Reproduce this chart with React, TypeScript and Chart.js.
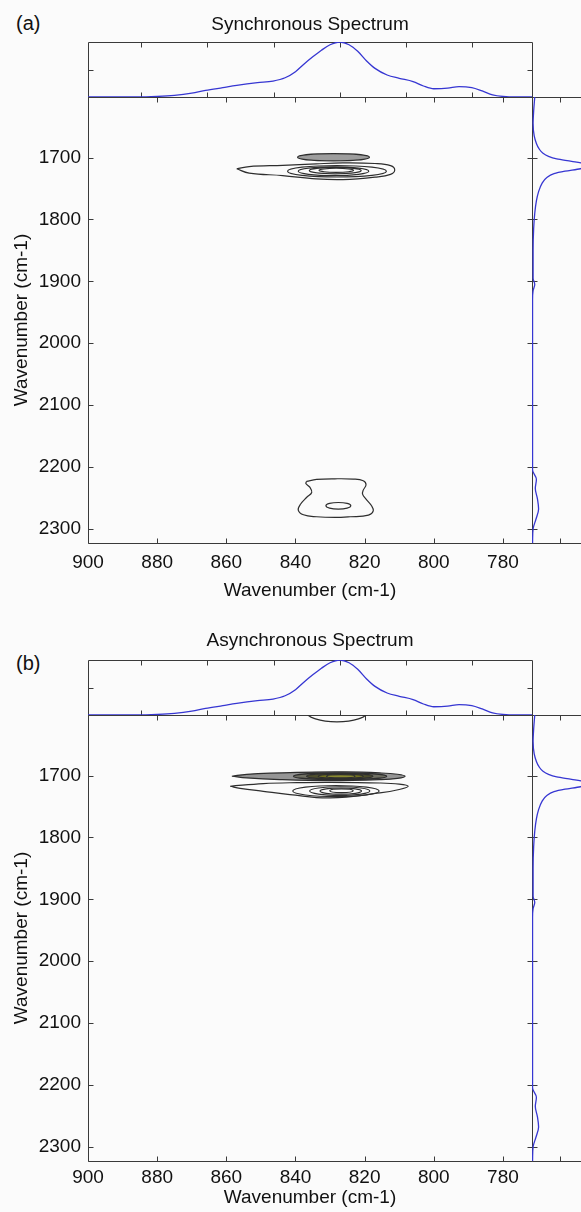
import React, { useEffect, useRef } from "react";
import { Chart, registerables } from "chart.js";
Chart.register(...registerables);

const FONT = "'Liberation Sans', Arial, Helvetica, sans-serif";
const AXIS = "#3a3a3a";
const TEXT = "#111111";
const BLUE = "#3636d2";
const LINE = "#2e2e2e";

// axis ranges / ticks
const X_MIN = 771.6;
const X_MAX = 900;
const Y_MIN = 1602;
const Y_MAX = 2323;
const xTickValues = [900, 880, 860, 840, 820, 800, 780];
const yTickValues = [1700, 1800, 1900, 2000, 2100, 2200, 2300];
const topIndexTicks = [0, 1, 2, 3, 4, 5];
const sideIndexTicks = [0.5];

// mean spectrum drawn above the map (wavenumber, normalised intensity)
const topWn = [900, 886, 880, 875, 870, 866, 861, 857, 851, 846.5, 843, 840, 837.5, 835, 832.5, 830, 827.2, 824.5, 822, 819.5, 817, 813.5, 810, 806, 803, 800, 796, 792.7, 789, 786, 783, 780, 776, 771.6];
const topInt = [0, 0, 0.01, 0.03, 0.07, 0.12, 0.17, 0.21, 0.26, 0.29, 0.35, 0.46, 0.6, 0.73, 0.85, 0.95, 1.0, 0.95, 0.83, 0.66, 0.52, 0.4, 0.34, 0.28, 0.2, 0.15, 0.16, 0.19, 0.17, 0.11, 0.04, 0.01, 0, 0];

// mean spectrum drawn right of the map
const sideWn = [1602, 1625, 1645, 1665, 1677, 1686, 1693, 1698, 1702, 1706, 1710, 1714, 1718, 1722, 1726, 1732, 1742, 1755, 1770, 1790, 1815, 1850, 1895, 1905, 1915, 1930, 2000, 2100, 2205, 2220, 2235, 2252, 2268, 2285, 2300, 2323];
const sideInt = [0.05, 0.03, 0.02, 0.04, 0.08, 0.13, 0.2, 0.3, 0.45, 0.72, 0.95, 1.0, 0.88, 0.6, 0.4, 0.27, 0.18, 0.12, 0.08, 0.05, 0.03, 0.02, 0.02, 0.05, 0.02, 0.01, 0.01, 0.01, 0.01, 0.08, 0.06, 0.1, 0.12, 0.07, 0.02, 0.01];

// (a) synchronous map contours
const syncOuterX = [857, 853.4, 843.7, 834, 826.3, 817, 812.5, 811.3, 812.5, 817, 826.3, 834, 843.7, 853.4, 857];
const syncOuterY = [1718, 1714.5, 1712.4, 1710, 1708.6, 1709.5, 1713, 1720, 1727, 1731.5, 1735.5, 1734.4, 1729, 1725, 1718];
const syncLowX = [836.8, 833.9, 828.6, 823.3, 820.4, 819.6, 820.4, 820.6, 819.6, 818, 817.5, 818.9, 824.2, 828.6, 833.9, 837.7, 839.2, 838.5, 836.8, 835.3, 835.8, 837, 836.8];
const syncLowY = [2223.5, 2220.3, 2219.2, 2219.7, 2222.4, 2228.9, 2237.5, 2244, 2252, 2262.8, 2271, 2278, 2280.6, 2281.7, 2280.6, 2277.4, 2269.8, 2260, 2249.4, 2241.3, 2233.2, 2226.8, 2223.5];
const syncRings = [
  [829, 1699.5, 10.4, 5.8],
  [828, 1722, 14.3, 9.3],
  [829, 1722, 10.2, 7],
  [828.5, 1721, 7.5, 5.2],
  [828.2, 1720.5, 5, 3.3],
  [827.6, 2262.8, 3.6, 5.3],
];
const syncRingFills = ["#9d9d9d", null, null, null, null, null];

// (b) asynchronous map contours
const asyncNegX = [858.4, 854.1, 839.6, 825.2, 815.6, 810.5, 808.3, 810.5, 815.6, 830, 844.5, 854.1, 858.4];
const asyncNegY = [1701, 1697.9, 1694.7, 1694, 1695.6, 1697.8, 1701, 1704.5, 1706.5, 1708.1, 1706.5, 1703.8, 1701];
const asyncPosX = [858.9, 849.3, 839.6, 830, 815.6, 810, 807.4, 810, 815.6, 830, 841.6, 849.3, 856, 858.9];
const asyncPosY = [1717.2, 1712.9, 1711.3, 1710.8, 1711.9, 1713.8, 1717.2, 1722.5, 1728, 1736.1, 1730.7, 1725.4, 1720.5, 1717.2];
const asyncRings = [
  [827.1, 1701, 13.5, 5.6],
  [827.2, 1701, 9.6, 4.6],
  [826.9, 1701, 6.5, 3.6],
  [826.9, 1701, 4.1, 2.6],
  [828.3, 1725, 12.5, 9],
  [827.2, 1725, 8.7, 7],
  [826.9, 1725, 6, 5],
  [826.7, 1724.5, 3.4, 3],
  [828, 1597, 8.8, 16],
];
const asyncRingFills = ["#6f6f62", "#4e4e2c", "#72721f", "#8a8a30", null, null, null, null, null];

type Ring = number[];

function framePlugin(xId: string, xTicks: number[], yId: string, yTicks: number[], len: number) {
  return {
    id: "frameTicks",
    beforeDatasetsDraw(chart: any) {
      const { ctx, chartArea: a } = chart;
      const xs = chart.scales[xId];
      const ys = chart.scales[yId];
      const L = Math.round(a.left) + 0.5;
      const R = Math.round(a.right) + 0.5;
      const T = Math.round(a.top) + 0.5;
      const B = Math.round(a.bottom) + 0.5;
      ctx.save();
      ctx.strokeStyle = AXIS;
      ctx.lineWidth = 1;
      ctx.beginPath();
      ctx.rect(L, T, R - L, B - T);
      for (const v of xTicks) {
        const p = Math.round(xs.getPixelForValue(v)) + 0.5;
        ctx.moveTo(p, B);
        ctx.lineTo(p, B - len);
        ctx.moveTo(p, T);
        ctx.lineTo(p, T + len);
      }
      for (const v of yTicks) {
        const p = Math.round(ys.getPixelForValue(v)) + 0.5;
        ctx.moveTo(L, p);
        ctx.lineTo(L + len, p);
        ctx.moveTo(R, p);
        ctx.lineTo(R - len, p);
      }
      ctx.stroke();
      ctx.restore();
    },
  };
}

function ringPlugin(rings: Ring[], fills: (string | null)[]) {
  return {
    id: "contourRings",
    afterDatasetsDraw(chart: any) {
      const { ctx, chartArea: a } = chart;
      const xs = chart.scales.x;
      const ys = chart.scales.y;
      ctx.save();
      ctx.beginPath();
      ctx.rect(a.left, a.top, a.right - a.left, a.bottom - a.top);
      ctx.clip();
      rings.forEach((r, i) => {
        const cx = xs.getPixelForValue(r[0]);
        const cy = ys.getPixelForValue(r[1]);
        const rx = Math.abs(xs.getPixelForValue(r[0] + r[2]) - cx);
        const ry = Math.abs(ys.getPixelForValue(r[1] + r[3]) - cy);
        ctx.beginPath();
        ctx.ellipse(cx, cy, rx, ry, 0, 0, Math.PI * 2);
        if (fills[i]) {
          ctx.fillStyle = fills[i];
          ctx.fill();
        }
        ctx.strokeStyle = LINE;
        ctx.lineWidth = 1.2;
        ctx.stroke();
      });
      ctx.restore();
    },
  };
}

function pts(xs: number[], ys: number[]) {
  return xs.map((x, i) => ({ x, y: ys[i] }));
}

function contourDataset(xs: number[], ys: number[], fill: string | null) {
  return {
    data: pts(xs, ys),
    showLine: true,
    tension: 0.4,
    pointRadius: 0,
    borderColor: LINE,
    borderWidth: 1.2,
    backgroundColor: fill || "transparent",
    fill: fill ? "shape" : false,
  };
}

function ChartCanvas(props: { left: number; top: number; width: number; height: number; make: () => any }) {
  const ref = useRef<HTMLCanvasElement>(null);
  useEffect(() => {
    const chart = new Chart(ref.current as HTMLCanvasElement, props.make());
    return () => chart.destroy();
  }, []);
  return (
    <canvas
      ref={ref}
      width={props.width}
      height={props.height}
      style={{ position: "absolute", left: props.left, top: props.top, width: props.width, height: props.height }}
    />
  );
}

const font19 = { family: FONT, size: 19, weight: "normal" as const };

function topConfig(title: string, titleTop: number) {
  return {
    type: "scatter",
    data: {
      datasets: [
        {
          data: pts(topWn, topInt),
          showLine: true,
          cubicInterpolationMode: "monotone",
          pointRadius: 0,
          borderColor: BLUE,
          borderWidth: 1.3,
        },
      ],
    },
    options: {
      animation: false,
      responsive: false,
      events: [],
      layout: { padding: { left: 8, right: 8, bottom: 8, top: 0 } },
      plugins: {
        legend: { display: false },
        tooltip: { enabled: false },
        title: {
          display: true,
          text: title,
          color: TEXT,
          font: font19,
          padding: { top: titleTop, bottom: 42 - titleTop - 22.8 },
        },
      },
      scales: {
        x: { type: "linear", display: false, min: X_MIN, max: X_MAX, reverse: true },
        xt: { type: "linear", axis: "x", display: false, min: -0.8, max: 5.9 },
        y: { type: "linear", display: false, min: 0, max: 1 },
      },
    },
    plugins: [framePlugin("xt", topIndexTicks, "y", [0.5], 5)],
  };
}

function sideConfig() {
  return {
    type: "scatter",
    data: {
      datasets: [
        {
          data: pts(sideInt, sideWn),
          showLine: true,
          cubicInterpolationMode: "monotone",
          pointRadius: 0,
          borderColor: BLUE,
          borderWidth: 1.3,
        },
      ],
    },
    options: {
      animation: false,
      responsive: false,
      indexAxis: "y",
      events: [],
      layout: { padding: { left: 8, right: 7, top: 8, bottom: 8 } },
      plugins: { legend: { display: false }, tooltip: { enabled: false } },
      scales: {
        x: { type: "linear", display: false, min: 0, max: 1 },
        y: { type: "linear", display: false, min: Y_MIN, max: Y_MAX, reverse: true },
      },
    },
    plugins: [framePlugin("x", sideIndexTicks, "y", yTickValues, 5)],
  };
}

function mainConfig(datasets: any[], rings: Ring[], fills: (string | null)[], tickPad: number, titlePad: number) {
  return {
    type: "scatter",
    data: { datasets },
    options: {
      animation: false,
      responsive: false,
      events: [],
      layout: { padding: { top: 7, right: 49, left: 0, bottom: 0 } },
      plugins: { legend: { display: false }, tooltip: { enabled: false } },
      scales: {
        x: {
          type: "linear",
          min: X_MIN,
          max: X_MAX,
          reverse: true,
          grid: { display: false, drawTicks: false },
          border: { display: false },
          ticks: { color: TEXT, font: font19, padding: tickPad, maxRotation: 0, autoSkip: false, callback: (v: any) => String(v) },
          afterBuildTicks: (s: any) => {
            s.ticks = xTickValues.map((v) => ({ value: v }));
          },
          afterFit: (s: any) => {
            s.height = 67;
            s.paddingLeft = 0;
            s.paddingRight = 0;
          },
          title: { display: true, text: "Wavenumber (cm-1)", color: TEXT, font: font19, padding: { top: 0, bottom: titlePad } },
        },
        y: {
          type: "linear",
          min: Y_MIN,
          max: Y_MAX,
          reverse: true,
          grid: { display: false, drawTicks: false },
          border: { display: false },
          ticks: { color: TEXT, font: font19, padding: 7, autoSkip: false, callback: (v: any) => String(v) },
          afterBuildTicks: (s: any) => {
            s.ticks = yTickValues.map((v) => ({ value: v }));
          },
          afterFit: (s: any) => {
            s.width = 88;
            s.paddingTop = 0;
            s.paddingBottom = 0;
          },
          title: { display: true, text: "Wavenumber (cm-1)", color: TEXT, font: font19, padding: { top: 10, bottom: 0 } },
        },
      },
    },
    plugins: [framePlugin("x", xTickValues, "y", yTickValues, 5), ringPlugin(rings, fills)],
  };
}

function Panel(props: {
  oy: number;
  title: string;
  titleTop: number;
  label: string;
  labelTop: number;
  tickPad: number;
  titlePad: number;
  datasets: any[];
  rings: Ring[];
  fills: (string | null)[];
}) {
  const { oy } = props;
  return (
    <>
      <div
        style={{
          position: "absolute",
          left: 16,
          top: oy + props.labelTop,
          font: `20px ${FONT}`,
          lineHeight: "22px",
          color: TEXT,
        }}
      >
        {props.label}
      </div>
      <ChartCanvas left={80} top={oy} width={460} height={105} make={() => topConfig(props.title, props.titleTop)} />
      <ChartCanvas
        left={0}
        top={oy + 90}
        width={581}
        height={520}
        make={() => mainConfig(props.datasets, props.rings, props.fills, props.tickPad, props.titlePad)}
      />
      <ChartCanvas left={524} top={oy + 89} width={70} height={462} make={() => sideConfig()} />
    </>
  );
}

export default function App() {
  const syncSets = [contourDataset(syncOuterX, syncOuterY, null), contourDataset(syncLowX, syncLowY, null)];
  const asyncSets = [contourDataset(asyncNegX, asyncNegY, "#959595"), contourDataset(asyncPosX, asyncPosY, null)];
  return (
    <div
      style={{
        position: "absolute",
        left: 0,
        top: 0,
        width: 581,
        height: 1212,
        overflow: "hidden",
        background: "#fbfbfb",
      }}
    >
      <Panel
        oy={0}
        title="Synchronous Spectrum"
        titleTop={13}
        label="(a)"
        labelTop={12}
        tickPad={8}
        titlePad={8}
        datasets={syncSets}
        rings={syncRings}
        fills={syncRingFills}
      />
      <Panel
        oy={618}
        title="Asynchronous Spectrum"
        titleTop={11}
        label="(b)"
        labelTop={34}
        tickPad={5}
        titlePad={19}
        datasets={asyncSets}
        rings={asyncRings}
        fills={asyncRingFills}
      />
    </div>
  );
}
